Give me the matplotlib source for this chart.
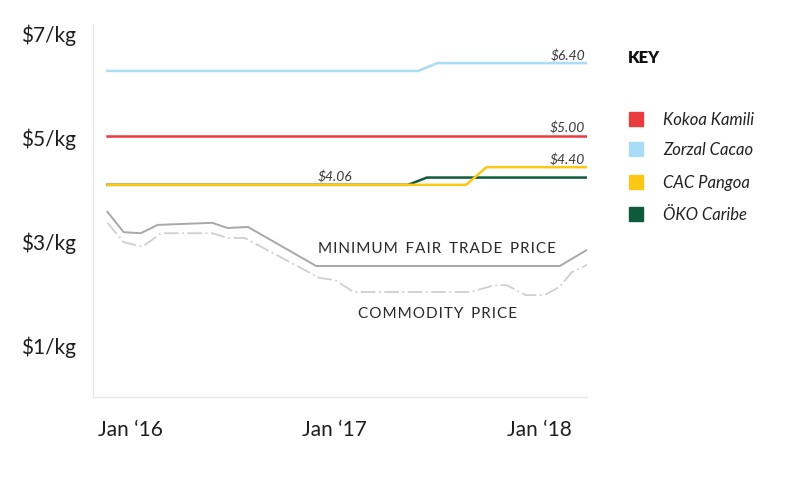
import matplotlib
matplotlib.use("Agg")
import matplotlib.pyplot as plt

plt.rcParams['font.family'] = ['Lato', 'DejaVu Sans']

# x in months after Jan 2016
start, end = -1.35, 26.8

kokoa_x = [start, end]
kokoa_y = [5.00, 5.00]

zorzal_x = [start, 16.9, 18.0, end]
zorzal_y = [6.25, 6.25, 6.40, 6.40]

pangoa_x = [start, 19.7, 20.9, end]
pangoa_y = [4.06, 4.06, 4.40, 4.40]

oko_x = [start, 16.3, 17.4, end]
oko_y = [4.06, 4.06, 4.20, 4.20]

fair_x = [start, -0.4, 0.6, 1.6, 4.8, 5.7, 6.9, 10.9, 25.2, end]
fair_y = [3.54, 3.15, 3.13, 3.29, 3.33, 3.23, 3.25, 2.50, 2.50, 2.81]

comm_x = [start, -0.4, 0.7, 1.8, 4.8, 5.7, 6.7, 11.1, 12.0, 13.1, 19.9,
          21.4, 22.1, 23.2, 24.3, 25.2, 25.9, end]
comm_y = [3.33, 2.96, 2.87, 3.13, 3.13, 3.04, 3.04, 2.27, 2.23, 2.00, 2.00,
          2.13, 2.13, 1.94, 1.94, 2.10, 2.38, 2.52]

y_ticks = [1, 3, 5, 7]
y_labels = ['$1/kg', '$3/kg', '$5/kg', '$7/kg']
x_ticks = [0, 12, 24]
x_labels = ['Jan \u201816', 'Jan \u201817', 'Jan \u201818']

names = ['Kokoa Kamili', 'Zorzal Cacao', 'CAC Pangoa', '\u00d6KO Caribe']
colors = ['#ec3b3f', '#a9dcf6', '#fdc716', '#0e5a3b']


def spaced(s):
    # wide letter spacing like the original caption
    return '  '.join('\u200a'.join(w) for w in s.split(' '))


fig = plt.figure(figsize=(8.0, 5.02), dpi=100)
ax = fig.add_axes([0.11625, 0.207, 0.6175, 0.743])

ax.plot(comm_x, comm_y, color='#cfcfcf', lw=1.3, ls=(0, (8, 2, 1, 2)))
ax.plot(fair_x, fair_y, color='#a8a8a8', lw=1.4)
ax.plot(zorzal_x, zorzal_y, color=colors[1], lw=1.8)
ax.plot(kokoa_x, kokoa_y, color=colors[0], lw=1.8)
ax.plot(oko_x, oko_y, color=colors[3], lw=1.8)
ax.plot(pangoa_x, pangoa_y, color=colors[2], lw=1.8)

lab = dict(fontsize=10, style='italic', color='#3a3a3a')
ax.text(end - 0.1, 6.44, '$6.40', ha='right', va='bottom', **lab)
ax.text(end - 0.1, 5.04, '$5.00', ha='right', va='bottom', **lab)
ax.text(end - 0.1, 4.44, '$4.40', ha='right', va='bottom', **lab)
ax.text(12.0, 4.10, '$4.06', ha='center', va='bottom', **lab)

ax.text(18.0, 2.84, spaced('MINIMUM FAIR TRADE PRICE'),
        ha='center', va='center', fontsize=11, color='#2a2a2a')
ax.text(18.0, 1.60, spaced('COMMODITY PRICE'), ha='center', va='center',
        fontsize=11, color='#2a2a2a')

ax.set_xlim(-2.2, 26.8)
ax.set_ylim(-0.02, 7.15)
ax.set_yticks(y_ticks)
ax.set_yticklabels(y_labels, fontsize=15, color='#1e1e1e')
ax.set_xticks(x_ticks)
ax.set_xticklabels(x_labels, fontsize=15, color='#1e1e1e')
ax.tick_params(length=0)
ax.tick_params(axis='y', pad=12)
ax.tick_params(axis='x', pad=16)
for s in ['top', 'right']:
    ax.spines[s].set_visible(False)
for s in ['left', 'bottom']:
    ax.spines[s].set_color('#e6e6e6')
    ax.spines[s].set_linewidth(1.0)

fig.text(628 / 800, 1 - 58 / 502, 'KEY', fontsize=12, fontweight='heavy',
         color='#111111', va='center', ha='left')
key_y = [120, 150, 183, 215]
for name, c, yy in zip(names, colors, key_y):
    fig.patches.append(plt.Rectangle((629 / 800, 1 - (yy + 7) / 502), 14 / 800, 14 / 502,
                                     transform=fig.transFigure, color=c))
    fig.text(663 / 800, 1 - yy / 502, name, fontsize=12, style='italic',
             color='#222222', va='center', ha='left')

fig.savefig('out.png', dpi=100)
